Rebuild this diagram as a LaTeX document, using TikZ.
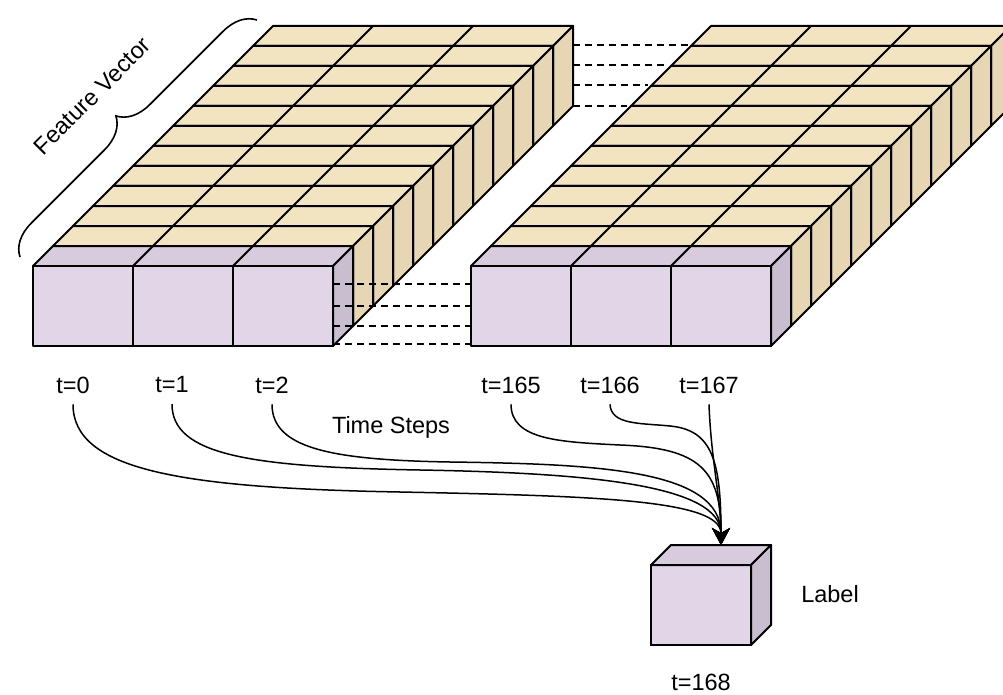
\documentclass[tikz,border=0pt]{standalone}
\usepackage{fontspec}
\setmainfont{Liberation Sans}
\usetikzlibrary{arrows.meta,decorations.pathreplacing,calc}

\definecolor{lilac}{HTML}{E1D5E7}
\definecolor{lilactop}{HTML}{D7CBDD}
\definecolor{lilacside}{HTML}{C9BDD0}
\definecolor{sand}{HTML}{F2E4C1}
\definecolor{sandside}{HTML}{E6D6B3}

% One slab of feature vectors: a purple front row of three time-step cells
% and eleven sand-coloured layers stacked behind it. #1 = left x of the front face.
\newcommand{\featureslab}[1]{%
  \foreach \k in {11,10,...,1}{%
    \pgfmathsetmacro{\xa}{#1+20*\k}%
    \pgfmathsetmacro{\ya}{266-20*\k}%
    \filldraw[face, fill=sand] (\xa,\ya) -- ++(300,0) -- ++(20,-20) -- ++(-300,0) -- cycle;
    \draw[face] (\xa+100,\ya) -- ++(20,-20) (\xa+200,\ya) -- ++(20,-20);
    \filldraw[face, fill=sandside] (\xa+300,\ya) -- ++(20,-20) -- ++(0,80) -- ++(-20,20) -- cycle;
  }
  \filldraw[face, fill=lilactop] (#1,266) -- ++(300,0) -- ++(20,-20) -- ++(-300,0) -- cycle;
  \draw[face] (#1+100,266) -- ++(20,-20) (#1+200,266) -- ++(20,-20);
  \filldraw[face, fill=lilacside] (#1+300,266) -- ++(20,-20) -- ++(0,80) -- ++(-20,20) -- cycle;
  \foreach \c in {0,1,2}{%
    \filldraw[face, fill=lilac] (#1+100*\c,266) rectangle ++(100,80);
  }
}

\begin{document}
\begin{tikzpicture}[x=1pt, y=-1pt,
  face/.style={draw=black, line width=2pt, line join=round},
  guide/.style={draw=black, line width=1.4pt, dash pattern=on 7pt off 5pt},
  flow/.style={draw=black, line width=1.5pt, -{Stealth[length=17pt, width=18pt, inset=5pt]}},
  txt/.style={inner sep=0pt, outer sep=0pt, font=\fontsize{23.5}{28}\selectfont},
  tlabel/.style={txt, outer ysep=11pt},
  cubefront/.style={draw=black, line width=2pt, fill=lilac, minimum width=100pt,
                    minimum height=80pt, inner sep=0pt, outer sep=0pt},
  bracket/.style={draw=black, line width=1.6pt, decorate,
                  decoration={brace, amplitude=32pt}}
]
\useasboundingbox (0,0) rectangle (1003,695);

% the two slabs
\featureslab{33}
\featureslab{471}

% dashed links between the slabs
\foreach \y/\xe in {45/688, 65/668, 85/648, 106/627}{%
  \draw[guide] (573,\y) -- (\xe,\y);
}
\foreach \y in {284, 306, 326, 344}{%
  \draw[guide] (333,\y) -- (470,\y);
}

% feature vector brace
\draw[bracket] (20,257) -- (257,20);
\node[txt, rotate=45] (fv) at (92,96) {Feature Vector};

% time step labels
\node[tlabel] (t0) at (73,385) {t=0};
\node[tlabel] (t1) at (172,385) {t=1};
\node[tlabel] (t2) at (272,385) {t=2};
\node[tlabel] (t165) at (511,385) {t=165};
\node[tlabel] (t166) at (610,385) {t=166};
\node[tlabel] (t167) at (709,385) {t=167};
\node[txt] (steps) at (391,427) {Time Steps};

% label cube
\node[cubefront] (cube) at (701,605) {};
\filldraw[face, fill=lilactop] (cube.north west) -- ++(20,-20) -- ($(cube.north east)+(20,-20)$) -- (cube.north east) -- cycle;
\filldraw[face, fill=lilacside] (cube.north east) -- ++(20,-20) -- ++(0,80) -- (cube.south east) -- cycle;
\coordinate (drop) at ($(cube.north)+(20,-20)$);
\node[txt] (lbl) at (830,594) {Label};
\node[txt] (t168) at (701,682) {t=168};

% every time step feeds the label
\draw[flow] (t0.south) .. controls (73,470) and (180,488) .. (400,492)
  .. controls (600,496) and (721,500) .. (drop);
\draw[flow] (t1.south) .. controls (172,455) and (250,467) .. (420,470)
  .. controls (590,473) and (721,485) .. (drop);
\draw[flow] (t2.south) .. controls (272,448) and (330,460) .. (450,462)
  .. controls (600,464) and (721,470) .. (drop);
\draw[flow] (t165.south) .. controls (511,440) and (560,442) .. (620,445)
  .. controls (700,448) and (721,470) .. (drop);
\draw[flow] (t166.south) .. controls (611,425) and (640,423) .. (670,426)
  .. controls (712,430) and (721,460) .. (drop);
\draw[flow] (t167.south) .. controls (711,460) and (721,500) .. (drop);
\end{tikzpicture}
\end{document}
